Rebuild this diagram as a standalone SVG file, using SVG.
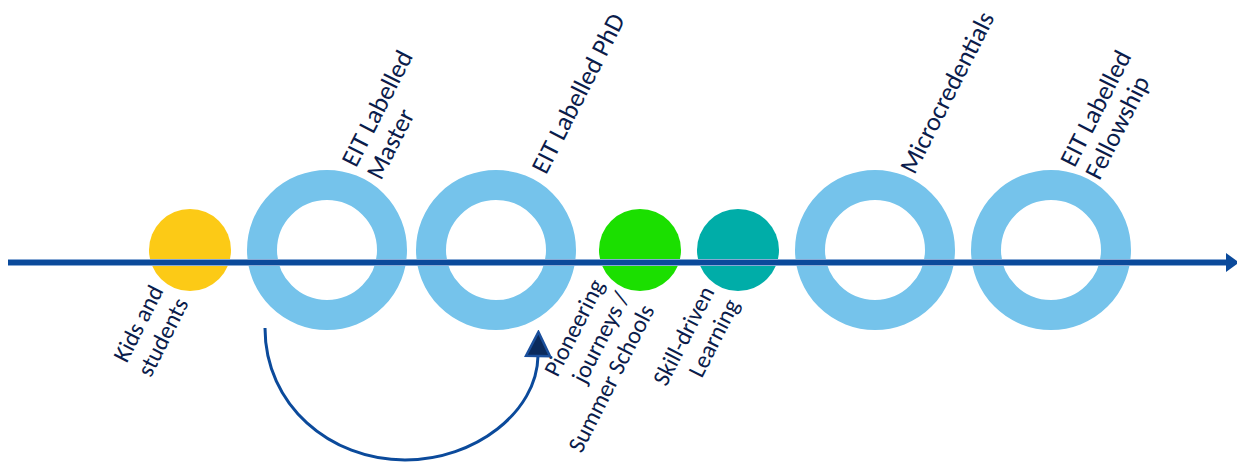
<svg xmlns="http://www.w3.org/2000/svg" width="1237" height="464" viewBox="0 0 1237 464">
<defs>
<style>
.ring{fill:none;stroke:#75C3EB;stroke-width:30}
.lbl{font-family:Carlito,Lato,"Liberation Sans",sans-serif;font-size:26px;fill:#0B1C4B}
.end{text-anchor:end;font-size:24px}
.axis{stroke:#0B4A9B;stroke-width:5;fill:none}
.axisEdge{stroke:#86A8D4;stroke-width:7;fill:none}
.arc{stroke:#0B4A9B;stroke-width:3;fill:none}
</style>
<marker id="head" markerUnits="userSpaceOnUse" viewBox="0 0 28 28" refX="2" refY="14" markerWidth="28" markerHeight="28" orient="auto">
<polygon points="2,2 26,14 2,26" fill="#0A2A5C" stroke="#1A4F9C" stroke-width="2.5" stroke-linejoin="miter"/>
</marker>
</defs>
<rect width="1237" height="464" fill="#ffffff"/>
<g id="kids">
<circle cx="190" cy="250" r="41" fill="#FCCA16"/>
<text class="lbl end" transform="translate(164,290.5) rotate(-63)"><tspan x="0" y="0">Kids and</tspan><tspan x="0" y="28">students</tspan></text>
</g>
<g id="master">
<circle class="ring" cx="327" cy="250" r="65"/>
<text class="lbl" transform="translate(356,168.5) rotate(-63)"><tspan x="0" y="0">EIT Labelled</tspan><tspan x="0" y="28">Master</tspan></text>
</g>
<g id="phd">
<circle class="ring" cx="496" cy="250" r="65"/>
<text class="lbl" transform="translate(546,175.5) rotate(-63)">EIT Labelled PhD</text>
</g>
<g id="pioneering">
<circle cx="640" cy="250" r="41" fill="#1BDF00"/>
<text class="lbl end" transform="translate(605,284.5) rotate(-63)"><tspan x="0" y="0">Pioneering</tspan><tspan x="0" y="28">journeys /</tspan><tspan x="0" y="56">Summer Schools</tspan></text>
</g>
<g id="skill">
<circle cx="738" cy="250" r="41" fill="#00ADA8"/>
<text class="lbl end" transform="translate(715,291.5) rotate(-63)"><tspan x="0" y="0">Skill-driven</tspan><tspan x="0" y="28">Learning</tspan></text>
</g>
<g id="micro">
<circle class="ring" cx="875" cy="250" r="65"/>
<text class="lbl" transform="translate(914.5,175.5) rotate(-63)">Microcredentials</text>
</g>
<g id="fellowship">
<circle class="ring" cx="1051" cy="250" r="65"/>
<text class="lbl" transform="translate(1074.5,168.5) rotate(-63)"><tspan x="0" y="0">EIT Labelled</tspan><tspan x="0" y="28">Fellowship</tspan></text>
</g>
<g id="connectors">
<line class="axisEdge" x1="8" y1="262.5" x2="1228" y2="262.5"/>
<line class="axis" x1="8" y1="262.5" x2="1228" y2="262.5"/>
<polygon points="1226,253 1239,262.5 1226,272" fill="#0B4A9B"/>
<path class="arc" d="M265,328 C265,405 330,460 405,460 C475,460 537,412 538,356" marker-end="url(#head)"/>
</g>
</svg>
